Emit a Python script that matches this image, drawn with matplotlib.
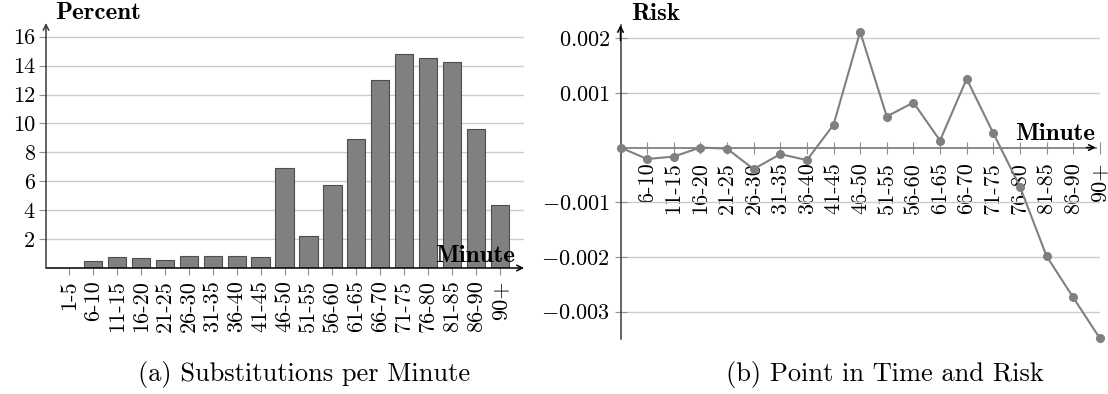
import matplotlib
matplotlib.use('Agg')
import matplotlib.pyplot as plt
from matplotlib.ticker import FuncFormatter

plt.rcParams['font.family'] = 'cmr10'
plt.rcParams['mathtext.fontset'] = 'cm'
plt.rcParams['axes.unicode_minus'] = False

# data
minutes = ['1-5', '6-10', '11-15', '16-20', '21-25', '26-30', '31-35', '36-40',
           '41-45', '46-50', '51-55', '56-60', '61-65', '66-70', '71-75',
           '76-80', '81-85', '86-90', '90+']
subs_percent = [0.0, 0.46, 0.74, 0.67, 0.57, 0.83, 0.83, 0.83, 0.74, 6.94,
                2.21, 5.74, 8.90, 12.99, 14.83, 14.56, 14.28, 9.64, 4.34]
risk = [0.0, -0.00021, -0.000165, 0.0, -0.00002, -0.000395, -0.00012,
        -0.00023, 0.000415, 0.002115, 0.000567, 0.000823, 0.000128, 0.001256,
        0.000263, -0.000713, -0.001985, -0.00274, -0.003485]
percent_ticks = [2, 4, 6, 8, 10, 12, 14, 16]
risk_ticks = [-0.003, -0.002, -0.001, 0.001, 0.002]

W, H = 1108, 394
TICK_FS = 16
BOLD_FS = 18
CAP_FS = 19
AXIS_C = '#3a3a3a'
GRID_C = '#cccccc'

fig = plt.figure(figsize=(W / 100, H / 100), dpi=100)
x = list(range(len(minutes)))

# (a) Substitutions per Minute
ax1 = fig.add_axes([46 / W, 1 - 268 / H, 478 / W, 245 / H])
ax1.bar(x, subs_percent, width=0.76, color='#808080', edgecolor='#4d4d4d', linewidth=0.8)
ax1.set_xlim(-0.96, 19.0)
ax1.set_ylim(0, 16.95)
ax1.set_yticks(percent_ticks)
ax1.set_yticklabels([str(v) for v in percent_ticks])
ax1.set_xticks(x)
ax1.set_xticklabels(minutes)
ax1.yaxis.grid(True, color=GRID_C, lw=1.0)
ax1.set_axisbelow(True)
for s in ax1.spines.values():
    s.set_visible(False)
ax1.tick_params(axis='x', direction='out', length=5, color='#909090', pad=4,
                labelsize=TICK_FS, labelrotation=90)
ax1.tick_params(axis='y', direction='out', length=5, color='#909090', pad=3, labelsize=TICK_FS)
ax1.annotate('', xy=(1, 0), xytext=(0, 0), xycoords='axes fraction',
             arrowprops=dict(arrowstyle='->', color='black', lw=1.1, shrinkA=0, shrinkB=0))
ax1.annotate('', xy=(0, 1.0), xytext=(0, 0), xycoords='axes fraction',
             arrowprops=dict(arrowstyle='->', color=AXIS_C, lw=1.1, shrinkA=0, shrinkB=0))

# (b) Point in Time and Risk
ax2 = fig.add_axes([620.5 / W, 1 - 339 / H, 479.3 / W, 314 / H])
ax2.spines['top'].set_visible(False)
ax2.spines['right'].set_visible(False)
ax2.spines['bottom'].set_position(('data', 0))
ax2.plot(x, risk, color='#808080', lw=1.5, marker='o', markersize=5.5, zorder=3, clip_on=False)
ax2.set_xlim(0, 18)
ax2.set_ylim(-0.0035, 0.00224)
ax2.set_yticks(risk_ticks)
ax2.yaxis.set_major_formatter(FuncFormatter(lambda v, p: '$%g$' % v))
ax2.set_xticks(x[1:])
ax2.set_xticklabels(minutes[1:])
ax2.yaxis.grid(True, color=GRID_C, lw=1.0)
ax2.set_axisbelow(True)
ax2.spines['bottom'].set_bounds(0, 17.85)
ax2.spines['bottom'].set_color('#808080')
ax2.spines['bottom'].set_linewidth(1.3)
ax2.spines['left'].set_color(AXIS_C)
ax2.spines['left'].set_linewidth(1.1)
ax2.tick_params(axis='x', direction='inout', length=9, color='#909090', pad=6,
                labelsize=TICK_FS, labelrotation=90)
ax2.tick_params(axis='y', direction='inout', length=9, color='#909090', pad=3, labelsize=TICK_FS)
ax2.annotate('', xy=(17.85, 0), xytext=(17.5, 0), xycoords='data',
             arrowprops=dict(arrowstyle='->', color='black', lw=1.1, shrinkA=0, shrinkB=0))
ax2.annotate('', xy=(0, 1.0), xytext=(0, 0.95), xycoords='axes fraction',
             arrowprops=dict(arrowstyle='->', color='black', lw=1.1, shrinkA=0, shrinkB=0))

# axis names
fig.text(55 / W, 1 - 19 / H, 'Percent', fontfamily='cmb10', fontsize=BOLD_FS, va='baseline')
fig.text(515 / W, 1 - 262 / H, 'Minute', fontfamily='cmb10', fontsize=BOLD_FS, va='baseline', ha='right')
fig.text(631 / W, 1 - 20 / H, 'Risk', fontfamily='cmb10', fontsize=BOLD_FS, va='baseline')
fig.text(1095 / W, 1 - 140 / H, 'Minute', fontfamily='cmb10', fontsize=BOLD_FS, va='baseline', ha='right')

# captions
fig.text(304 / W, 1 - 381 / H, '(a) Substitutions per Minute', fontsize=CAP_FS, ha='center', va='baseline')
fig.text(885 / W, 1 - 381 / H, '(b) Point in Time and Risk', fontsize=CAP_FS, ha='center', va='baseline')

fig.savefig('out.png', dpi=100)
